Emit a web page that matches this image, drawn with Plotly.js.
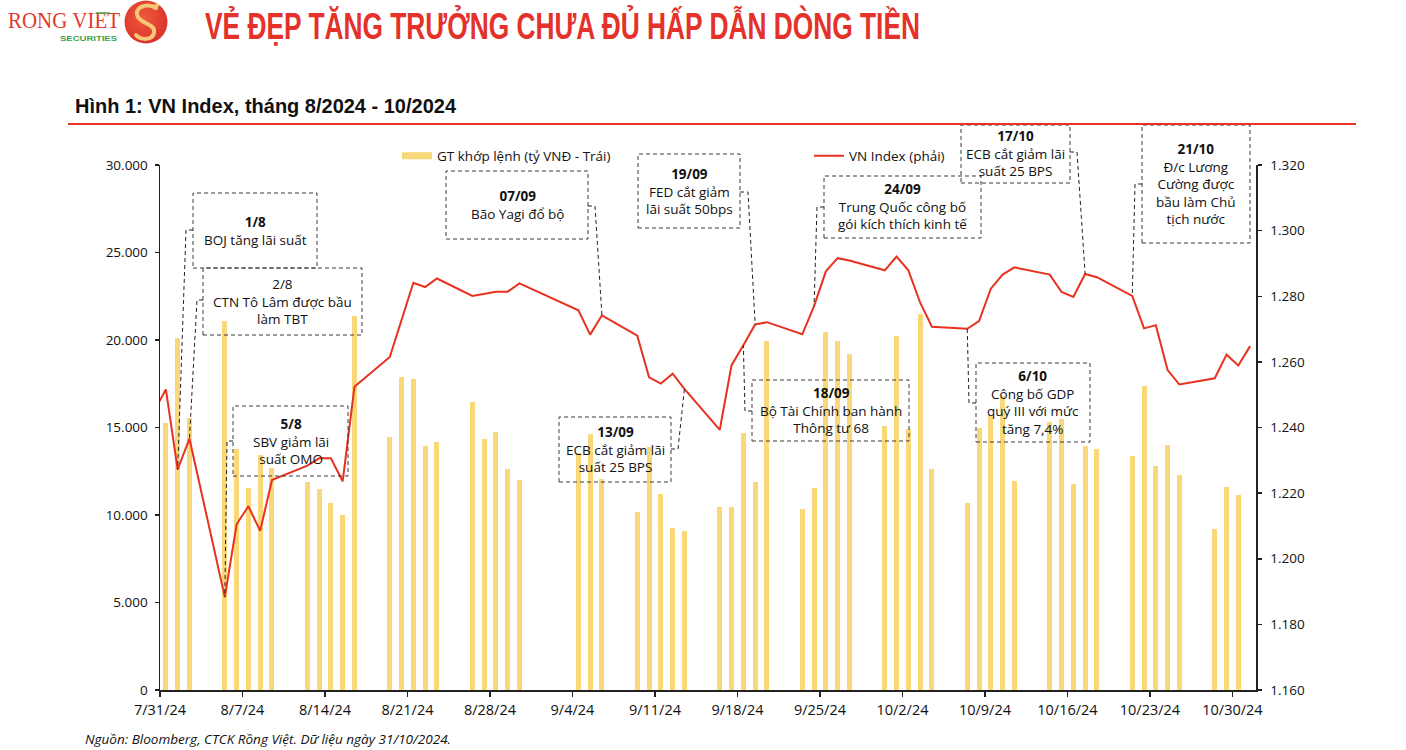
<!DOCTYPE html>
<html>
<head>
<meta charset="utf-8">
<script src="https://cdn.plot.ly/plotly-3.0.1.min.js"></script>
<style>
  body { margin: 0; background: #fff; }
  #chart { position: absolute; left: 0; top: 0; width: 1406px; height: 750px; }
  .over { position: absolute; z-index: 10; white-space: nowrap; pointer-events: none; transform-origin: 0 0; }
  #head { left: 205px; top: 8px; font: bold 37px/37px "Liberation Sans Narrow", "Liberation Sans", Arial, sans-serif; color: #e4322b; }
  #fig { left: 75px; top: 96px; font: bold 20px/20px "Liberation Sans Narrow", "Liberation Sans", Arial, sans-serif; color: #111; }
  #rule { left: 68px; top: 123px; width: 1288px; height: 1.5px; background: #e8322a; }
  #foot { left: 85px; top: 733px; font: italic 13px/13px "Open Sans", sans-serif; color: #111; }
  #logo { left: 0; top: 0; }
</style>
</head>
<body>
<div id="chart"></div>
<svg id="logo" class="over" width="180" height="50">
  <defs>
    <radialGradient id="rg" cx="0.45" cy="0.4" r="0.65">
      <stop offset="0" stop-color="#ef5a3c"/>
      <stop offset="1" stop-color="#d8302a"/>
    </radialGradient>
  </defs>
  <text x="8" y="28" font-family="Liberation Serif" font-size="24" fill="#e03a2f" textLength="112" lengthAdjust="spacingAndGlyphs">RONG VIET</text>
  <path d="M96 13 l14 0" stroke="#4caa4c" stroke-width="1.5"/>
  <text x="60" y="41" font-family="Liberation Sans" font-weight="bold" font-size="8" fill="#3fa34d" textLength="57" lengthAdjust="spacingAndGlyphs">SECURITIES</text>
  <circle cx="146" cy="22" r="21.5" fill="url(#rg)"/>
  <path d="M156 8 C146 2 133 8 138 17 C142 24 156 24 154 33 C152 41 140 40 136 35" fill="none" stroke="#f4c878" stroke-width="4" stroke-linecap="round"/>
  <path d="M150 6 l8 -1 l-2 5" fill="none" stroke="#f4c878" stroke-width="2"/>
</svg>
<div id="head" class="over" data-w="715">VẺ ĐẸP TĂNG TRƯỞNG CHƯA ĐỦ HẤP DẪN DÒNG TIỀN</div>
<div id="fig" class="over" data-w="381">Hình 1: VN Index, tháng 8/2024 - 10/2024</div>
<div id="rule" class="over"></div>
<div id="foot" class="over" data-w="366">Nguồn: Bloomberg, CTCK Rồng Việt. Dữ liệu ngày 31/10/2024.</div>
<script>
// GT khớp lệnh (tỷ VNĐ), trading days
var barDates = [
  '2024-07-31', '2024-08-01', '2024-08-02',
  '2024-08-05', '2024-08-06', '2024-08-07', '2024-08-08', '2024-08-09',
  '2024-08-12', '2024-08-13', '2024-08-14', '2024-08-15', '2024-08-16',
  '2024-08-19', '2024-08-20', '2024-08-21', '2024-08-22', '2024-08-23',
  '2024-08-26', '2024-08-27', '2024-08-28', '2024-08-29', '2024-08-30',
  '2024-09-04', '2024-09-05', '2024-09-06',
  '2024-09-09', '2024-09-10', '2024-09-11', '2024-09-12', '2024-09-13',
  '2024-09-16', '2024-09-17', '2024-09-18', '2024-09-19', '2024-09-20',
  '2024-09-23', '2024-09-24', '2024-09-25', '2024-09-26', '2024-09-27',
  '2024-09-30', '2024-10-01', '2024-10-02', '2024-10-03', '2024-10-04',
  '2024-10-07', '2024-10-08', '2024-10-09', '2024-10-10', '2024-10-11',
  '2024-10-14', '2024-10-15', '2024-10-16', '2024-10-17', '2024-10-18',
  '2024-10-21', '2024-10-22', '2024-10-23', '2024-10-24', '2024-10-25',
  '2024-10-28', '2024-10-29', '2024-10-30'
];
var barValues = [
  15250, 20100, 15550,
  21100, 13780, 11550, 13450, 12700,
  11900, 11500, 10700, 10000, 21370,
  14430, 17870, 17760, 13920, 14160,
  16470, 14370, 14760, 12630, 12020,
  13570, 14650, 12080,
  10200, 13900, 11180, 9270, 9080,
  10470, 10470, 14700, 11900, 19960,
  10370, 11530, 20430, 19960, 19190,
  15070, 20250, 14900, 21470, 12630,
  10680, 14950, 15660, 16800, 11930,
  15300, 15470, 11780, 13950, 13780,
  13380, 17370, 12810, 14020, 12310,
  9180, 11610, 11150
];

// VN Index (phải)
var lineDates = ['2024-07-30'].concat(barDates, ['2024-10-31']);
var lineValues = [
  1245.0, 1251.6, 1227.2, 1236.6,
  1188.3, 1210.5, 1216.0, 1208.5, 1224.0,
  1228.4, 1230.6, 1230.6, 1223.6, 1252.4,
  1261.5, 1272.5, 1284.1, 1282.8, 1285.4,
  1280.1, 1280.8, 1281.4, 1281.4, 1283.9,
  1275.7, 1268.3, 1274.2,
  1268.0, 1255.3, 1253.4, 1256.4, 1251.8,
  1239.3, 1259.0, 1265.1, 1271.4, 1272.1,
  1268.4, 1277.0, 1287.6, 1291.6, 1290.9,
  1287.9, 1292.1, 1287.9, 1278.1, 1270.7,
  1270.1, 1272.4, 1282.3, 1286.6, 1288.8,
  1286.6, 1281.3, 1279.8, 1286.8, 1285.8,
  1280.1, 1270.2, 1271.2, 1257.5, 1253.1,
  1255.0, 1262.2, 1258.9,
  1264.8
];

var barName = 'GT khớp lệnh (tỷ VNĐ - Trái)';
var lineName = 'VN Index (phải)';

var events = [
  {date: '2024-08-01', lines: ['<b>1/8</b>', 'BOJ tăng lãi suất'], box: [193, 317, 193, 268], lx: 186, ly: 230},
  {date: '2024-08-02', lines: ['2/8', 'CTN Tô Lâm được bầu', 'làm TBT'], box: [203, 362, 268, 335], lx: 197, ly: 300},
  {date: '2024-08-05', lines: ['<b>5/8</b>', 'SBV giảm lãi', 'suất OMO'], box: [233, 348, 406, 476], lx: 227, ly: 441},
  {date: '2024-09-06', lines: ['<b>07/09</b>', 'Bão Yagi đổ bộ'], box: [446, 588, 171, 239], lx: 595, ly: 206},
  {date: '2024-09-13', lines: ['<b>13/09</b>', 'ECB cắt giảm lãi', 'suất 25 BPS'], box: [559, 671, 417, 482], lx: 678, ly: 449},
  {date: '2024-09-19', lines: ['<b>19/09</b>', 'FED cắt giảm', 'lãi suất 50bps'], box: [638, 740, 154, 228], lx: 748, ly: 192},
  {date: '2024-09-18', lines: ['<b>18/09</b>', 'Bộ Tài Chính ban hành', 'Thông tư 68'], box: [752, 909, 380, 441], lx: 745, ly: 411},
  {date: '2024-09-24', lines: ['<b>24/09</b>', 'Trung Quốc công bố', 'gói kích thích kinh tế'], box: [824, 981, 176, 238], lx: 817, ly: 207},
  {date: '2024-10-17', lines: ['<b>17/10</b>', 'ECB cắt giảm lãi', 'suất 25 BPS'], box: [961, 1070, 125, 183], lx: 1077, ly: 152},
  {date: '2024-10-07', lines: ['<b>6/10</b>', 'Công bố GDP', 'quý III với mức', 'tăng 7,4%'], box: [976, 1090, 363, 442], lx: 969, ly: 403},
  {date: '2024-10-21', lines: ['<b>21/10</b>', 'Đ/c Lương', 'Cường được', 'bầu làm Chủ', 'tịch nước'], box: [1142, 1250, 125, 243], lx: 1135, ly: 184}
];

// plot area in page pixels
var L = 160, T = 165, W = 1096, H = 525;
var xStart = '2024-07-31', xEnd = '2024-11-01';
var y2Range = [1160, 1320];
var DAY = 86400000;

function px(x) { return (x - L) / W; }
function py(y) { return (T + H - y) / H; }
var t0 = Date.parse(xStart + 'T00:00:00Z'), t1 = Date.parse(xEnd + 'T00:00:00Z');
function dateX(d) { return (Date.parse(d + 'T00:00:00Z') + DAY / 2 - t0) / (t1 - t0); }
function valY2(v) { return (v - y2Range[0]) / (y2Range[1] - y2Range[0]); }

var txtFont = {family: 'Open Sans, sans-serif', size: 13.5, color: '#111'};
var dash = '4px,3px';

var shapes = [], annotations = [];
events.forEach(function (e) {
  var b = e.box;
  shapes.push({type: 'rect', xref: 'paper', yref: 'paper', layer: 'above',
    x0: px(b[0]), x1: px(b[1]), y0: py(b[3]), y1: py(b[2]),
    line: {color: '#3a3a3a', width: 1, dash: dash}});
  var edge = e.lx < b[0] ? b[0] : b[1];
  var v = lineValues[lineDates.indexOf(e.date)];
  var path = 'M' + px(edge) + ',' + py(e.ly) + ' L' + px(e.lx) + ',' + py(e.ly) +
             ' L' + dateX(e.date) + ',' + valY2(v);
  shapes.push({type: 'path', xref: 'paper', yref: 'paper', layer: 'above', path: path,
    line: {color: '#222', width: 1, dash: dash}});
  annotations.push({xref: 'paper', yref: 'paper', showarrow: false,
    x: px((b[0] + b[1]) / 2), y: py((b[2] + b[3]) / 2), xanchor: 'center', yanchor: 'middle',
    align: 'center', text: e.lines.join('<br>'), font: txtFont});
});

var bars = {
  type: 'bar',
  x: barDates,
  y: barValues,
  xperiod: DAY,
  xperiodalignment: 'middle',
  width: 0.43 * DAY,
  marker: {color: '#f9d879'},
  name: barName,
  showlegend: false,
  hoverinfo: 'x+y'
};

var barKey = {                      // legend swatch only
  type: 'scatter', mode: 'lines',
  x: [null], y: [null],
  line: {color: '#f9d879', width: 7},
  name: barName,
  legend: 'legend'
};

var index = {
  type: 'scatter',
  mode: 'lines',
  x: lineDates,
  y: lineValues,
  xperiod: DAY,
  xperiodalignment: 'middle',
  yaxis: 'y2',
  line: {color: '#e8311f', width: 2},
  name: lineName,
  legend: 'legend2'
};

var tickFont = {family: 'Open Sans, sans-serif', size: 13.5, color: '#111'};
var xTickFont = {family: 'Open Sans, sans-serif', size: 14.5, color: '#111'};

var layout = {
  width: 1406,
  height: 750,
  margin: {l: L, r: 1406 - L - W, t: T, b: 750 - T - H, pad: 0},
  paper_bgcolor: '#fff',
  plot_bgcolor: 'rgba(0,0,0,0)',
  separators: ',.',
  bargap: 0,
  font: tickFont,
  xaxis: {
    type: 'date',
    range: [xStart, xEnd],
    tick0: xStart,
    dtick: 7 * DAY,
    tickformat: '%-m/%-d/%y',
    ticks: 'outside', ticklen: 5, tickcolor: '#222', tickwidth: 1.5,
    ticklabelstandoff: 1,
    showline: true, linecolor: '#222', linewidth: 1.5,
    showgrid: false, zeroline: false,
    tickfont: xTickFont
  },
  yaxis: {
    range: [0, 30000],
    dtick: 5000,
    tickformat: ',d',
    ticks: 'outside', ticklen: 4, tickcolor: '#222', tickwidth: 1.5,
    ticklabelstandoff: 4,
    showline: true, linecolor: '#222', linewidth: 1.5,
    showgrid: false, zeroline: false,
    tickfont: tickFont
  },
  yaxis2: {
    overlaying: 'y',
    side: 'right',
    range: y2Range,
    dtick: 20,
    tickformat: ',d',
    ticks: 'outside', ticklen: 4, tickcolor: '#222', tickwidth: 1.5,
    ticklabelstandoff: 6,
    showline: true, linecolor: '#222', linewidth: 1.5,
    showgrid: false, zeroline: false,
    tickfont: tickFont
  },
  legend: {
    orientation: 'h', x: px(397), y: py(156), xanchor: 'left', yanchor: 'middle',
    bgcolor: 'rgba(0,0,0,0)', font: tickFont
  },
  legend2: {
    orientation: 'h', x: px(809), y: py(156), xanchor: 'left', yanchor: 'middle',
    bgcolor: 'rgba(0,0,0,0)', font: tickFont
  },
  shapes: shapes,
  annotations: annotations
};

var configOptions = {staticPlot: true, displayModeBar: false};

Plotly.newPlot('chart', [bars, barKey, index], layout, configOptions);

function fitText() {
  document.querySelectorAll('[data-w]').forEach(function (el) {
    el.style.transform = 'none';
    var w = el.getBoundingClientRect().width;
    if (w > 0) el.style.transform = 'scaleX(' + (+el.dataset.w / w) + ')';
  });
}
fitText();
if (document.fonts) document.fonts.ready.then(fitText);
</script>
</body>
</html>
